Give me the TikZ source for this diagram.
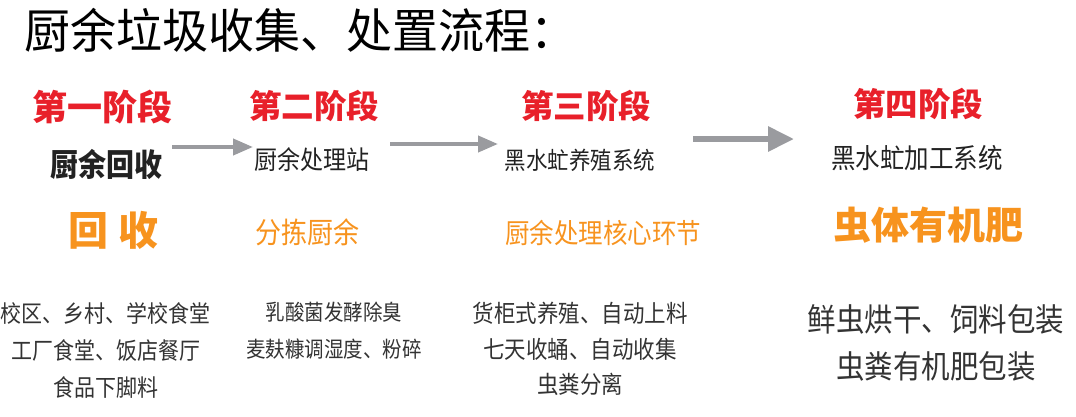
\documentclass[tikz,border=0pt]{standalone}
\usepackage{fontspec}
\usetikzlibrary{arrows.meta}
\newfontfamily\cjk{Noto Sans CJK SC}
\definecolor{stagered}{HTML}{E8202A}
\definecolor{stageorange}{HTML}{F7931E}
\definecolor{arrowgray}{HTML}{9A9B9F}
\definecolor{txtdark}{HTML}{222222}
\definecolor{txtgray}{HTML}{333333}
\tikzset{
  every node/.style={inner sep=0pt, outer sep=0pt, font=\cjk},
  tall/.style={yscale=1.12, transform shape},
  stagehead/.style={text=stagered, font=\cjk\bfseries\fontsize{32.5}{38}\selectfont},
  stagename/.style={text=txtdark, tall},
  stagekey/.style={text=stageorange, font=\cjk\bfseries},
  detail/.style={text=txtgray, align=center, tall},
  flowarrow/.style={draw=arrowgray, line width=4pt, -{Triangle[length=20pt,width=16pt]}},
  bigarrow/.style={draw=arrowgray, line width=6pt, -{Triangle[length=26pt,width=24pt]}}
}
\begin{document}
\begin{tikzpicture}[x=1pt,y=-1pt]
\useasboundingbox (0,0) rectangle (1076,416);
% title
\node[anchor=west, text=black, font=\cjk\fontsize{46}{50}\selectfont, yscale=1.03, transform shape] (title) at (24,30) {厨余垃圾收集、处置流程：};
% stage 1
\node[stagehead, font=\cjk\bfseries\fontsize{35}{40}\selectfont] (s1h) at (102,107) {第一阶段};
\node[stagename, font=\cjk\bfseries\fontsize{28}{32}\selectfont] (s1n) at (106,164) {厨余回收};
\node[stagekey, font=\cjk\bfseries\fontsize{40}{44}\selectfont] (s1k) at (113,230) {回\hspace{10pt}收};
\node[detail, font=\cjk\fontsize{21}{33}\selectfont] (s1d) at (106,350) {校区、乡村、学校食堂\\工厂食堂、饭店餐厅\\食品下脚料};
% stage 2
\node[stagehead] (s2h) at (314,106) {第二阶段};
\node[stagename, font=\cjk\fontsize{23}{27}\selectfont] (s2n) at (312,160) {厨余处理站};
\node[stagekey, font=\cjk\fontsize{26}{30}\selectfont, tall] (s2k) at (307,232) {分拣厨余};
\node[detail, font=\cjk\fontsize{19.5}{33}\selectfont] (s2d) at (334,331) {乳酸菌发酵除臭\\麦麸糠调湿度、粉碎};
% stage 3
\node[stagehead] (s3h) at (586,106) {第三阶段};
\node[stagename, font=\cjk\fontsize{21.5}{26}\selectfont] (s3n) at (580,160) {黑水虻养殖系统};
\node[stagekey, font=\cjk\fontsize{24.5}{29}\selectfont, tall] (s3k) at (603,233) {厨余处理核心环节};
\node[detail, font=\cjk\fontsize{21.5}{32}\selectfont] (s3d) at (580,349) {货柜式养殖、自动上料\\七天收蛹、自动收集\\虫粪分离};
% stage 4
\node[stagehead] (s4h) at (918,104) {第四阶段};
\node[stagename, font=\cjk\fontsize{24.5}{29}\selectfont] (s4n) at (917,158) {黑水虻加工系统};
\node[stagekey, font=\cjk\bfseries\fontsize{38}{42}\selectfont] (s4k) at (928,225) {虫体有机肥};
\node[detail, font=\cjk\fontsize{28.5}{42}\selectfont] (s4d) at (936,343) {鲜虫烘干、饲料包装\\虫粪有机肥包装};
% arrows
\coordinate (a1s) at (172,147);
\coordinate (a1e) at (253,147);
\coordinate (a2s) at (390,144);
\coordinate (a2e) at (498,144);
\coordinate (a3s) at (693,139);
\coordinate (a3e) at (794,139);
\draw[flowarrow] (a1s) -- (a1e);
\draw[flowarrow] (a2s) -- (a2e);
\draw[bigarrow] (a3s) -- (a3e);
\end{tikzpicture}
\end{document}
